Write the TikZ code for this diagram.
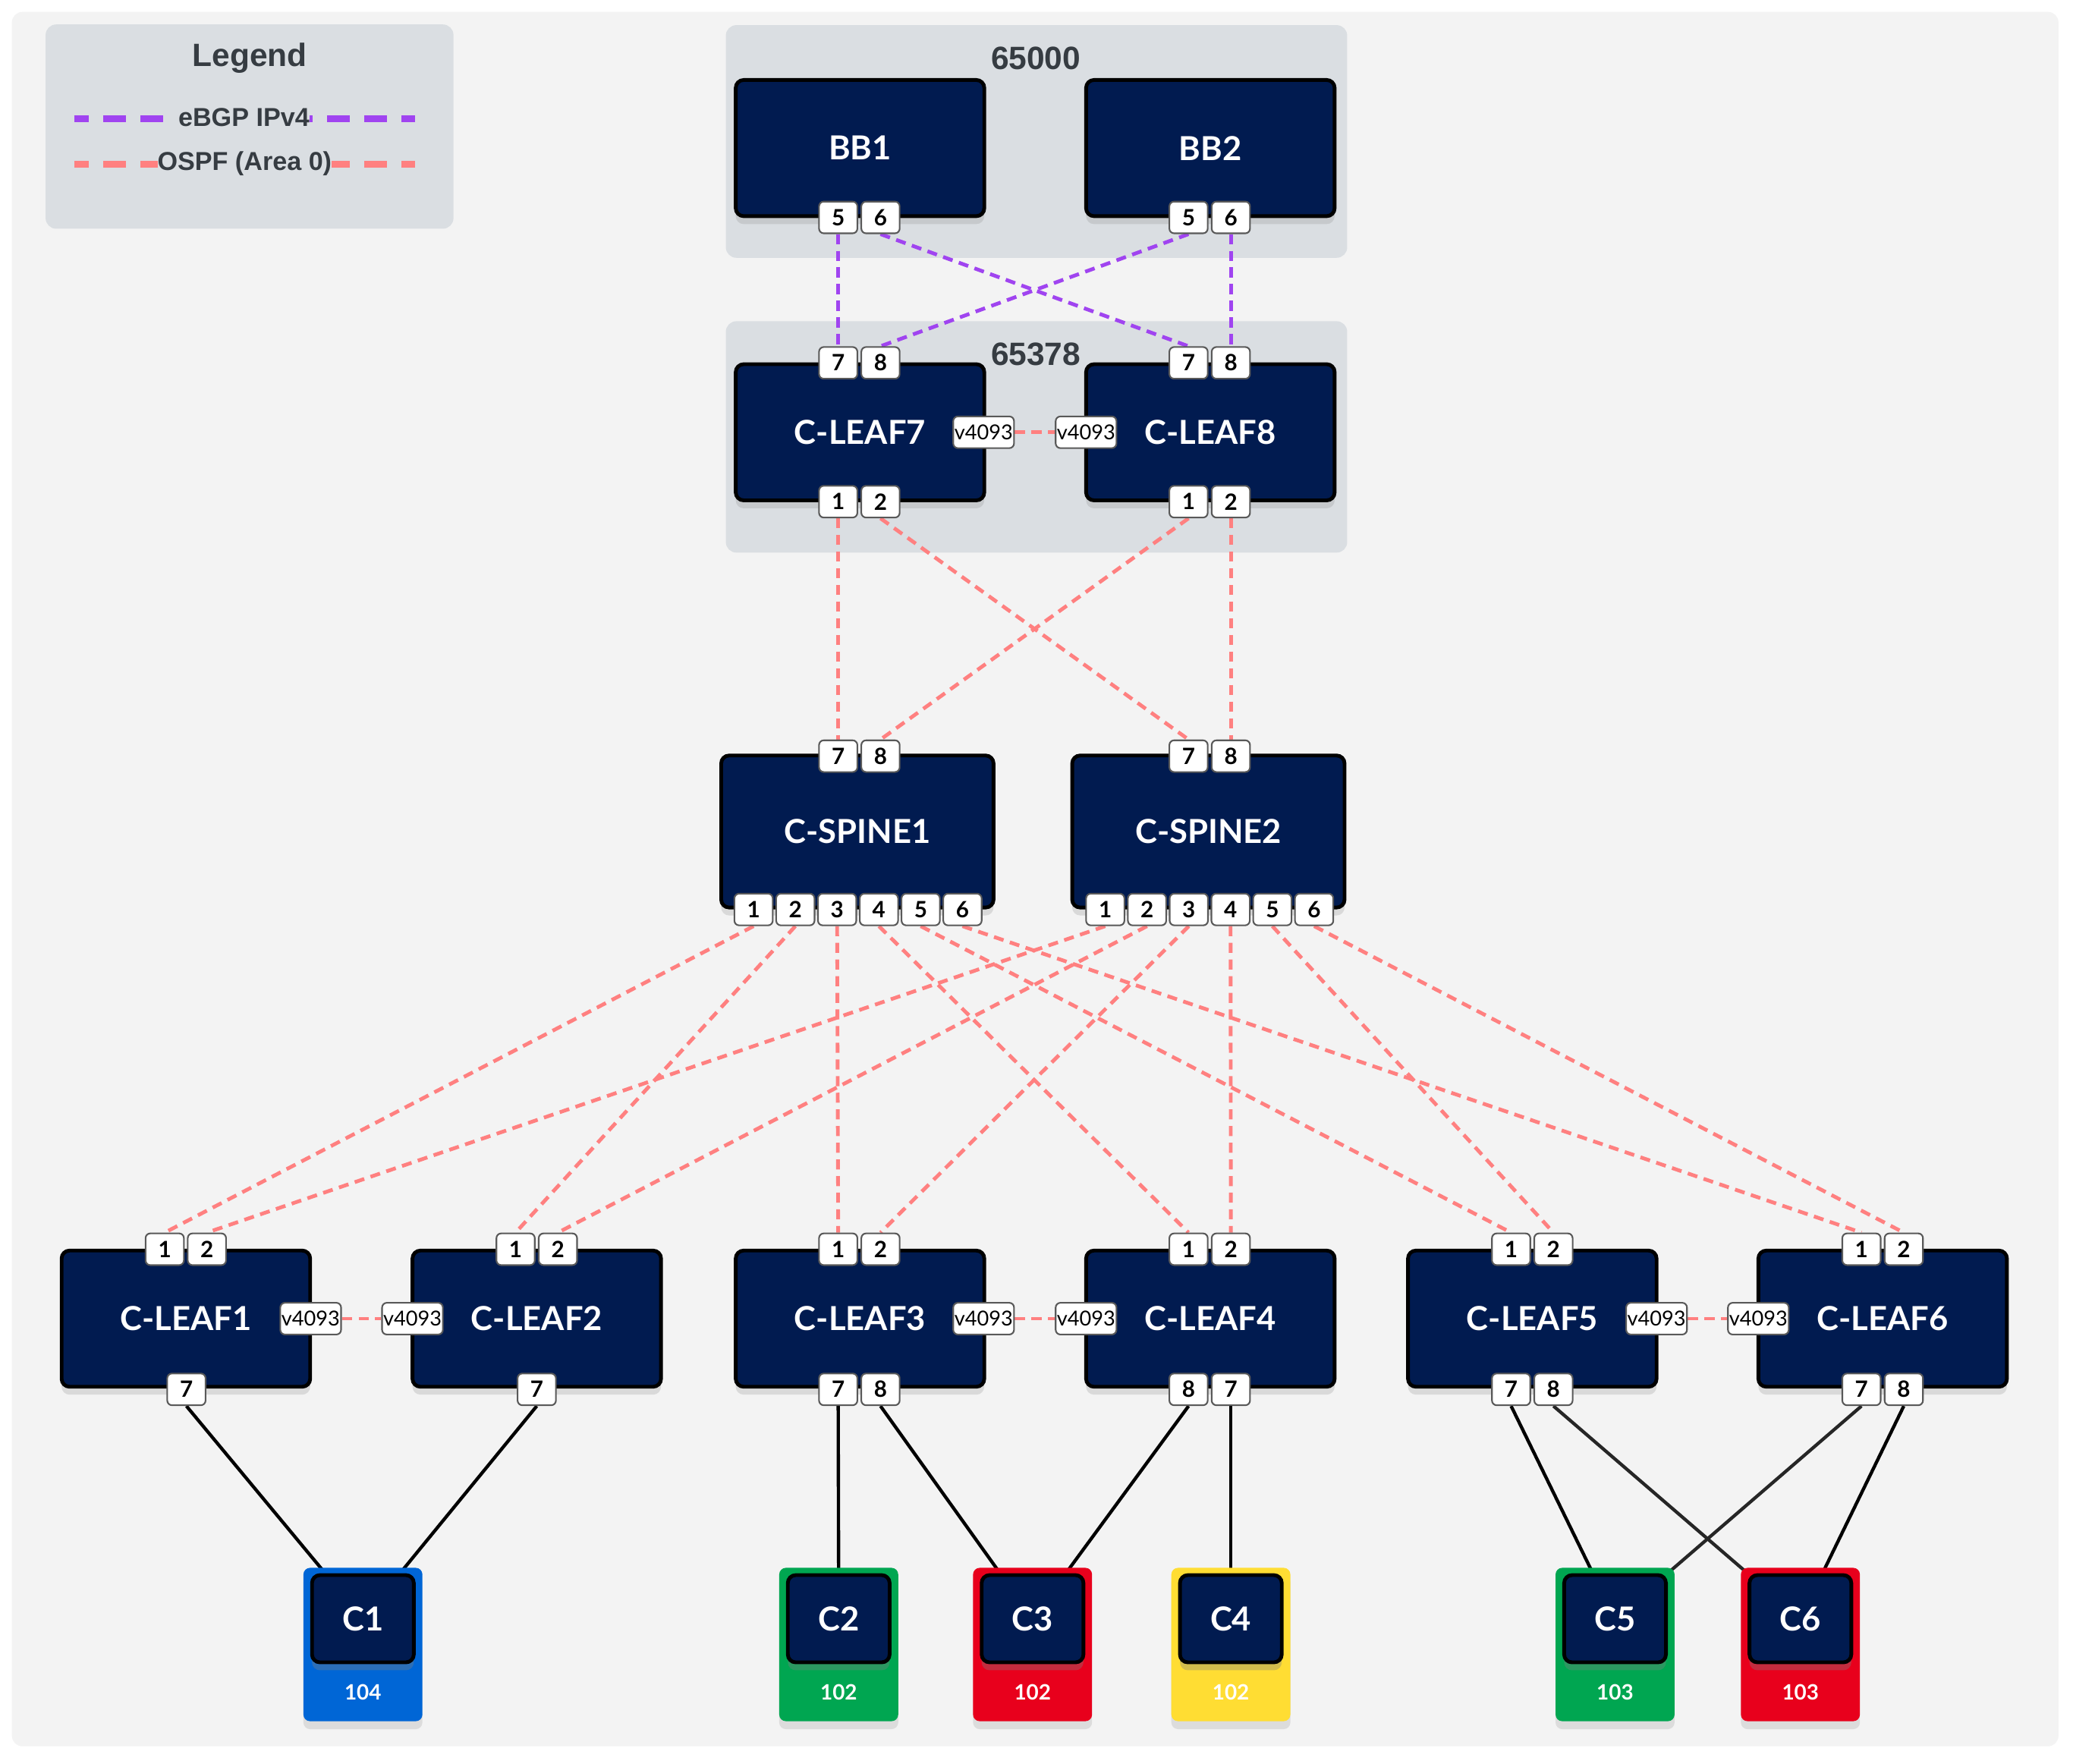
\documentclass[tikz,border=0pt]{standalone}
\usepackage{fontspec}
\setmainfont{Lato}
\newfontfamily\arialf{Liberation Sans}
\usetikzlibrary{shadows}
\pgfdeclarelayer{bg}
\pgfdeclarelayer{lines}
\pgfsetlayers{bg,lines,main}
\definecolor{navy}{HTML}{011B50}
\definecolor{pagebg}{HTML}{F3F3F3}
\definecolor{asbg}{HTML}{DADEE2}
\definecolor{astext}{HTML}{363C42}
\definecolor{bgpc}{HTML}{A044F0}
\definecolor{ospfc}{HTML}{FF8080}
\definecolor{vblue}{HTML}{0066D6}
\definecolor{vgreen}{HTML}{00A651}
\definecolor{vred}{HTML}{E8001C}
\definecolor{vyellow}{HTML}{FFDD33}
\tikzset{
  dev/.style={rectangle, rounded corners=3pt, fill=navy, draw=black, line width=1.4pt,
    minimum width=94pt, minimum height=51.5pt, text=white,
    font=\bfseries\fontsize{12.5}{15}\selectfont,
    drop shadow={shadow xshift=0pt, shadow yshift=-3pt, opacity=0.22}},
  spinebox/.style={dev, minimum width=103pt, minimum height=57.5pt},
  port/.style={rectangle, rounded corners=1.8pt, fill=white, draw=black!65, line width=0.6pt,
    minimum width=14.5pt, minimum height=12pt, inner sep=0pt, text=black,
    font=\bfseries\fontsize{8.5}{10}\selectfont},
  vport/.style={port, minimum width=23pt, font=\fontsize{7.8}{9}\selectfont},
  ospf/.style={draw=ospfc, line width=1.4pt, dash pattern=on 3.8pt off 2.5pt},
  bgp/.style={draw=bgpc, line width=1.4pt, dash pattern=on 3.8pt off 2.5pt},
  clink/.style={draw=black, line width=1.25pt},
  vlanbox/.style={rectangle, rounded corners=2.5pt, minimum width=45pt, minimum height=58pt,
    inner sep=0pt, drop shadow={shadow xshift=0pt, shadow yshift=-3pt, opacity=0.2}},
  client/.style={rectangle, rounded corners=3pt, fill=navy, draw=black, line width=1.4pt,
    minimum width=38.5pt, minimum height=33pt, text=white,
    font=\bfseries\fontsize{12.5}{15}\selectfont,
    drop shadow={shadow xshift=0pt, shadow yshift=-3pt, opacity=0.35}},
  vlantext/.style={text=white, font=\bfseries\fontsize{8}{10}\selectfont},
  astitle/.style={text=astext, font=\arialf\bfseries\fontsize{12.2}{14}\selectfont},
  legtext/.style={text=astext, fill=asbg, inner xsep=0pt, inner ysep=1pt,
    font=\arialf\bfseries\fontsize{9.8}{12}\selectfont},
}
\begin{document}
\begin{tikzpicture}[x=0.5pt, y=-0.5pt]
\useasboundingbox (0,0) rectangle (1568,1334);
\begin{pgfonlayer}{bg}
  \fill[white] (0,0) rectangle (1568,1334);
  \fill[pagebg, rounded corners=4pt] (9,9) rectangle (1557,1321);
  \fill[asbg, rounded corners=4pt] (34.5,18.5) rectangle (343,173);
  \fill[asbg, rounded corners=4pt] (549,19) rectangle (1019,195);
  \fill[asbg, rounded corners=4pt] (549,243) rectangle (1019,418);
\end{pgfonlayer}

% legend
\node[astitle] (legtitle) at (189,44) {Legend};
\coordinate (lgA1) at (56,90);
\coordinate (lgA2) at (314,90);
\coordinate (lgB1) at (56,124);
\coordinate (lgB2) at (314,124);
\draw[draw=bgpc, line width=2.6pt, dash pattern=on 8.6pt off 5.5pt, dash phase=3pt] (lgA1) -- (lgA2);
\draw[draw=ospfc, line width=2.6pt, dash pattern=on 8.6pt off 5.5pt, dash phase=3pt] (lgB1) -- (lgB2);
\node[legtext] (legbgp) at (184.5,89) {eBGP IPv4};
\node[legtext] (legospf) at (185,123.5) {OSPF (Area 0)};

% AS labels
\node[astitle] (as1) at (783.5,44) {65000};
\node[astitle] (as2) at (783.5,268) {65378};

% devices
\node[dev] (bb1) at (650.5,112) {BB1};
\node[dev] (bb2) at (915.5,112) {BB2};
\node[dev] (l7) at (650.5,327) {C-LEAF7};
\node[dev] (l8) at (915.5,327) {C-LEAF8};
\node[spinebox] (s1) at (648.5,629) {C-SPINE1};
\node[spinebox] (s2) at (914,629) {C-SPINE2};
\node[dev] (l1) at (140.6,997.5) {C-LEAF1};
\node[dev] (l2) at (406,997.5) {C-LEAF2};
\node[dev] (l3) at (650.5,997.5) {C-LEAF3};
\node[dev] (l4) at (915.5,997.5) {C-LEAF4};
\node[dev] (l5) at (1159,997.5) {C-LEAF5};
\node[dev] (l6) at (1424,997.5) {C-LEAF6};

% ports
\node[port] (bb1p5) at (634,164.5) {5};
\node[port] (bb1p6) at (666,164.5) {6};
\node[port] (bb2p5) at (899,164.5) {5};
\node[port] (bb2p6) at (931,164.5) {6};
\node[port] (l7p7) at (634,274.5) {7};
\node[port] (l7p8) at (666,274.5) {8};
\node[port] (l7p1) at (634,379.5) {1};
\node[port] (l7p2) at (666,379.5) {2};
\node[port] (l8p7) at (899,274.5) {7};
\node[port] (l8p8) at (931,274.5) {8};
\node[port] (l8p1) at (899,379.5) {1};
\node[port] (l8p2) at (931,379.5) {2};
\node[vport] (l7v) at (744,327) {v4093};
\node[vport] (l8v) at (821.5,327) {v4093};

\node[port] (s1p7) at (634,572) {7};
\node[port] (s1p8) at (666,572) {8};
\node[port] (s1p1) at (570,688) {1};
\node[port] (s1p2) at (601.6,688) {2};
\node[port] (s1p3) at (633.2,688) {3};
\node[port] (s1p4) at (664.8,688) {4};
\node[port] (s1p5) at (696.4,688) {5};
\node[port] (s1p6) at (728,688) {6};
\node[port] (s2p7) at (899,572) {7};
\node[port] (s2p8) at (931,572) {8};
\node[port] (s2p1) at (836,688) {1};
\node[port] (s2p2) at (867.6,688) {2};
\node[port] (s2p3) at (899.2,688) {3};
\node[port] (s2p4) at (930.8,688) {4};
\node[port] (s2p5) at (962.4,688) {5};
\node[port] (s2p6) at (994,688) {6};

\node[port] (l1p1) at (124.6,945) {1};
\node[port] (l1p2) at (156.5,945) {2};
\node[port] (l1p7) at (141,1051) {7};
\node[port] (l2p1) at (390,945) {1};
\node[port] (l2p2) at (422,945) {2};
\node[port] (l2p7) at (406,1051) {7};
\node[port] (l3p1) at (634,945) {1};
\node[port] (l3p2) at (666,945) {2};
\node[port] (l3p7) at (634,1051) {7};
\node[port] (l3p8) at (666,1051) {8};
\node[port] (l4p1) at (899,945) {1};
\node[port] (l4p2) at (931,945) {2};
\node[port] (l4p8) at (899,1051) {8};
\node[port] (l4p7) at (931,1051) {7};
\node[port] (l5p1) at (1143,945) {1};
\node[port] (l5p2) at (1175,945) {2};
\node[port] (l5p7) at (1143,1051) {7};
\node[port] (l5p8) at (1175,1051) {8};
\node[port] (l6p1) at (1408,945) {1};
\node[port] (l6p2) at (1440,945) {2};
\node[port] (l6p7) at (1408,1051) {7};
\node[port] (l6p8) at (1440,1051) {8};

\node[vport] (l1v) at (235,997.5) {v4093};
\node[vport] (l2v) at (312,997.5) {v4093};
\node[vport] (l3v) at (744,997.5) {v4093};
\node[vport] (l4v) at (821.5,997.5) {v4093};
\node[vport] (l5v) at (1253,997.5) {v4093};
\node[vport] (l6v) at (1330,997.5) {v4093};

% clients
\node[vlanbox, fill=vblue] (c1o) at (274.5,1244) {};
\node[client] (c1) at (274.5,1224.5) {C1};
\node[vlantext] (c1t) at (274.5,1280) {104};
\node[vlanbox, fill=vgreen] (c2o) at (634.4,1244) {};
\node[client] (c2) at (634.4,1224.5) {C2};
\node[vlantext] (c2t) at (634.4,1280) {102};
\node[vlanbox, fill=vred] (c3o) at (781,1244) {};
\node[client] (c3) at (781,1224.5) {C3};
\node[vlantext] (c3t) at (781,1280) {102};
\node[vlanbox, fill=vyellow] (c4o) at (931,1244) {};
\node[client] (c4) at (931,1224.5) {C4};
\node[vlantext] (c4t) at (931,1280) {102};
\node[vlanbox, fill=vgreen] (c5o) at (1221.6,1244) {};
\node[client] (c5) at (1221.6,1224.5) {C5};
\node[vlantext] (c5t) at (1221.6,1280) {103};
\node[vlanbox, fill=vred] (c6o) at (1361.8,1244) {};
\node[client] (c6) at (1361.8,1224.5) {C6};
\node[vlantext] (c6t) at (1361.8,1280) {103};

\begin{pgfonlayer}{lines}
  % eBGP
  \draw[bgp] (bb1p5.south) -- (l7p7.north);
  \draw[bgp] (bb1p6.south) -- (l8p7.north);
  \draw[bgp] (bb2p5.south) -- (l7p8.north);
  \draw[bgp] (bb2p6.south) -- (l8p8.north);
  % OSPF upper
  \draw[ospf] (l7v) -- (l8v);
  \draw[ospf] (l7p1.south) -- (s1p7.north);
  \draw[ospf] (l7p2.south) -- (s2p7.north);
  \draw[ospf] (l8p1.south) -- (s1p8.north);
  \draw[ospf] (l8p2.south) -- (s2p8.north);
  % OSPF spine-leaf
  \draw[ospf] (s1p1.south) -- (l1p1.north);
  \draw[ospf] (s1p2.south) -- (l2p1.north);
  \draw[ospf] (s1p3.south) -- (l3p1.north);
  \draw[ospf] (s1p4.south) -- (l4p1.north);
  \draw[ospf] (s1p5.south) -- (l5p1.north);
  \draw[ospf] (s1p6.south) -- (l6p1.north);
  \draw[ospf] (s2p1.south) -- (l1p2.north);
  \draw[ospf] (s2p2.south) -- (l2p2.north);
  \draw[ospf] (s2p3.south) -- (l3p2.north);
  \draw[ospf] (s2p4.south) -- (l4p2.north);
  \draw[ospf] (s2p5.south) -- (l5p2.north);
  \draw[ospf] (s2p6.south) -- (l6p2.north);
  % MLAG peer links
  \draw[ospf] (l1v) -- (l2v);
  \draw[ospf] (l3v) -- (l4v);
  \draw[ospf] (l5v) -- (l6v);
  % client links
  \draw[clink] (l1p7.south) -- (c1);
  \draw[clink] (l2p7.south) -- (c1);
  \draw[clink] (l3p7.south) -- (c2);
  \draw[clink] (l3p8.south) -- (c3);
  \draw[clink] (l4p8.south) -- (c3);
  \draw[clink] (l4p7.south) -- (c4);
  \draw[clink] (l5p7.south) -- (c5);
  \draw[clink, draw=black!85] (l5p8.south) -- (c6);
  \draw[clink, draw=black!85] (l6p7.south) -- (c5);
  \draw[clink] (l6p8.south) -- (c6);
\end{pgfonlayer}
\end{tikzpicture}
\end{document}
